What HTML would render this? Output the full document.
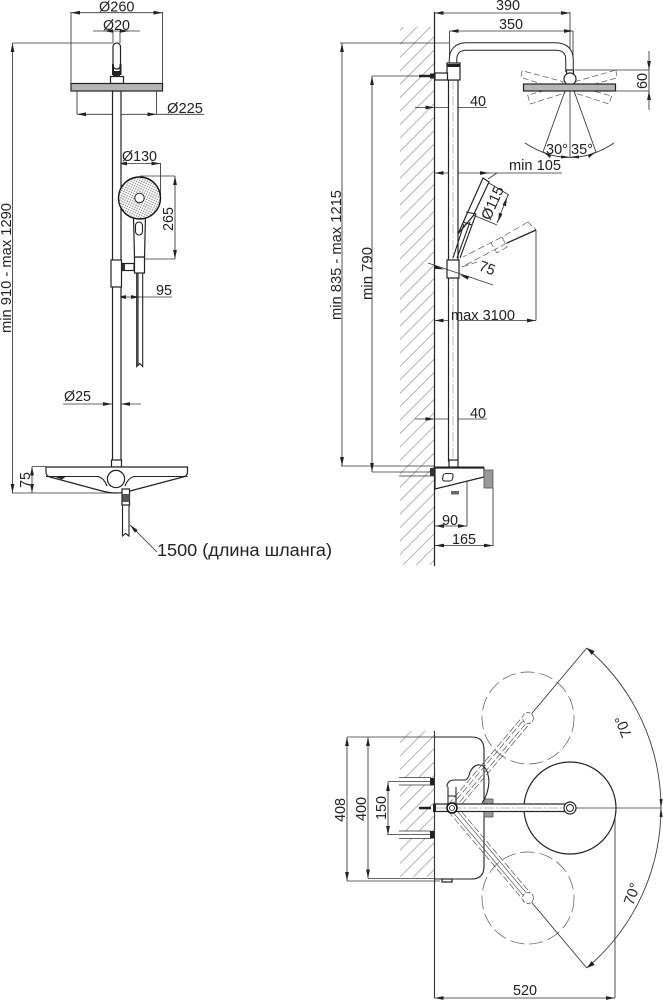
<!DOCTYPE html>
<html><head><meta charset="utf-8"><style>
html,body{margin:0;padding:0;background:#fff;width:663px;height:1000px;overflow:hidden}
svg{display:block}
text{font-family:"Liberation Sans",sans-serif;font-size:15px;fill:#222}
.d{stroke:#333;stroke-width:.85;fill:none}
.o{stroke:#222;stroke-width:1.2;fill:#fff}
.n{stroke:#222;stroke-width:1.1;fill:none}
.t{stroke:#555;stroke-width:.7;fill:none;stroke-dasharray:9 4}
</style></head><body>
<svg width="663" height="1000" viewBox="0 0 663 1000" xmlns="http://www.w3.org/2000/svg">
<defs>
<marker id="a" viewBox="0 0 9 5" refX="0" refY="2.5" markerWidth="9" markerHeight="5" markerUnits="userSpaceOnUse" orient="auto"><path d="M0,2.5L9,0.6V4.4Z" fill="#222"/></marker>
<marker id="b" viewBox="0 0 9 5" refX="9" refY="2.5" markerWidth="9" markerHeight="5" markerUnits="userSpaceOnUse" orient="auto"><path d="M9,2.5L0,0.6V4.4Z" fill="#222"/></marker>
<pattern id="hp" width="9.5" height="9.5" patternUnits="userSpaceOnUse" patternTransform="rotate(45)"><line x1="0" y1="0" x2="0" y2="9.5" stroke="#999" stroke-width="1.5"/></pattern>
<pattern id="dots" width="2.4" height="2.4" patternUnits="userSpaceOnUse" patternTransform="rotate(25)"><rect width="2.4" height="2.4" fill="#fff"/><circle cx="1.2" cy="1.2" r=".65" fill="#666"/></pattern>
</defs>

<!-- LEFT VIEW -->
<g>
<path class="d" d="M71,12V84M162.500,12V84M113,31V43M120,31V43M77,91V114M156.500,91V114M12.500,43H113M118,163V197M160.500,163V197M140,176H175M144,259H175M32,466.500H46M12,493H116"/>
<path class="d" d="M71,12.700H162.500" marker-start="url(#a)" marker-end="url(#b)"/>
<path class="d" d="M93,31H140"/><path d="M104,31l9,-1.700v3.400zM129,31l-9,-1.700v3.400z" fill="#222"/>
<path class="d" d="M77,114.300H204"/><path d="M77,114.300l9,-1.900v3.800zM156.500,114.300l-9,-1.900v3.800z" fill="#222"/>
<path class="d" d="M12.500,43V493" marker-start="url(#a)" marker-end="url(#b)"/>
<path class="d" d="M118,163.500H160.500" marker-start="url(#a)" marker-end="url(#b)"/>
<path class="d" d="M175,176V259" marker-start="url(#a)" marker-end="url(#b)"/>
<path class="d" d="M117,297H172"/><path d="M117,297l9,-1.900v3.800zM140,297l-9,-1.900v3.800z" fill="#222"/>
<path class="d" d="M63,404H141"/><path d="M112,404l-9,-1.900v3.800zM121,404l9,-1.900v3.800z" fill="#222"/>
<path class="d" d="M32,466.500V493" marker-start="url(#a)" marker-end="url(#b)"/>
<path class="d" d="M157,552L130,525" marker-end="url(#b)"/>

<rect class="o" x="112.500" y="91" width="8.500" height="370"/>
<rect class="o" x="113" y="43" width="7.500" height="26" rx="3.700"/>
<path d="M112,64h2v11h-2zM119.500,64h2v11h-2zM113,71h7v5h-7z" fill="#222"/>
<rect class="o" x="110.500" y="76.500" width="13" height="7"/>
<rect x="71" y="83.500" width="91.500" height="7.500" fill="#b5b5b5" stroke="#222" stroke-width="1.200"/>

<rect class="o" x="111" y="260" width="10.500" height="27"/>
<rect class="o" x="122" y="263.500" width="12" height="7"/>
<rect x="122" y="264" width="3" height="6" fill="#333"/>
<path class="n" d="M136.700,272V366.500l3,-3 3,3V272M138,272V366" stroke-width="1"/>
<rect class="o" x="134.500" y="257" width="10" height="16"/>
<path class="o" d="M133.500,216Q134,240 134.500,257H144.500Q145,240 145.500,216Z"/>
<circle cx="139.500" cy="198" r="21" fill="url(#dots)" stroke="#111" stroke-width="1.400"/>
<circle cx="139.500" cy="198" r="4.700" fill="#fff" stroke="#222"/>
<rect class="n" x="135.500" y="222" width="7" height="13" rx="3.500"/>

<rect class="o" x="111.500" y="460" width="10" height="7"/>
<path class="o" d="M46,467H187.500V472Q187.500,476 183,477L130,491Q122,493 116,493Q110,493 102,491L50,477Q46,476 46,472Z"/>
<path class="n" d="M46,476.500H98Q104,478 107,486M187.500,476.500H134Q128,478 125,486"/>
<path d="M54,476.500l12,0l-4,3z" fill="#222"/>
<circle class="o" cx="116" cy="479" r="8.600" stroke-width="1.400"/>
<rect class="o" x="122" y="489" width="7.500" height="16"/>
<rect x="122.500" y="494" width="7" height="8" fill="#555"/>
<path class="n" d="M122.500,505V536l3,-2.500 3.500,2.500V505" stroke-width="1"/>
<text x="99" y="11.500" textLength="35.500" lengthAdjust="spacingAndGlyphs">Ø260</text>
<text x="103" y="30" textLength="27" lengthAdjust="spacingAndGlyphs">Ø20</text>
<text x="167" y="113" textLength="36" lengthAdjust="spacingAndGlyphs">Ø225</text>
<text x="122" y="161" textLength="35" lengthAdjust="spacingAndGlyphs">Ø130</text>
<text x="156" y="295" textLength="16" lengthAdjust="spacingAndGlyphs">95</text>
<text x="64" y="401" textLength="27" lengthAdjust="spacingAndGlyphs">Ø25</text>
<text x="157" y="556" style="font-size:17.500px" textLength="175" lengthAdjust="spacingAndGlyphs">1500 (длина шланга)</text>
<text transform="translate(11,333) rotate(-90)" textLength="130" lengthAdjust="spacingAndGlyphs">min 910 - max 1290</text>
<text transform="translate(173,231) rotate(-90)" textLength="24" lengthAdjust="spacingAndGlyphs">265</text>
<text transform="translate(30,488) rotate(-90)" textLength="16" lengthAdjust="spacingAndGlyphs">75</text>
</g>

<!-- SIDE VIEW -->
<g>
<rect x="400" y="27" width="34" height="538" fill="url(#hp)"/>
<path d="M434.500,12V566" stroke="#222" stroke-width="1.200"/>
<path class="d" d="M570,12V90M449.500,31V64M573,31V60M340,43H449M372,76H420M575,70H649M615,91H649M341,466H434M372,472H434M399,476H434M536,230V320.500M467,480V526M493,488V546M488,179L497,173"/>
<path class="d" d="M434.500,13H570" marker-start="url(#a)" marker-end="url(#b)"/>
<path class="d" d="M449.500,31H573" marker-start="url(#a)" marker-end="url(#b)"/>
<path class="d" d="M342,43V466" marker-start="url(#a)" marker-end="url(#b)"/>
<path class="d" d="M372,76V472" marker-start="url(#a)" marker-end="url(#b)"/>
<path class="d" d="M649,51V110"/><path d="M649,70l-1.900,-9h3.800zM649,91l-1.900,9h3.800z" fill="#222"/>
<path class="d" d="M415,107.500H487"/><path d="M434.500,107.500l-9,-1.900v3.800zM449,107.500l9,-1.900v3.800z" fill="#222"/>
<path class="d" d="M434.500,173H562"/><path d="M434.500,173l9,-1.900v3.800zM489,173l-9,-1.900v3.800z" fill="#222"/>
<path class="d" d="M434.500,320.500H536" marker-start="url(#a)" marker-end="url(#b)"/>
<path class="d" d="M415,419H487"/><path d="M434.500,419l-9,-1.900v3.800zM449,419l9,-1.900v3.800z" fill="#222"/>
<path class="d" d="M435,526H467" marker-start="url(#a)" marker-end="url(#b)"/>
<path class="d" d="M435,545.500H493" marker-start="url(#a)" marker-end="url(#b)"/>

<path d="M453,65V60Q453,46.500 467,46.500H555Q569.500,46.500 569.500,60V72" fill="none" stroke="#222" stroke-width="8.500"/>
<path d="M453,65V60Q453,46.500 467,46.500H555Q569.500,46.500 569.500,60V72" fill="none" stroke="#fff" stroke-width="6.500"/>
<rect class="o" x="448.500" y="80" width="9.500" height="381"/>
<path d="M453,80V461" stroke="#aaa" stroke-width=".7" stroke-dasharray="10 2 2 2"/>
<rect class="o" x="447" y="63" width="13" height="17"/><rect x="447" y="64" width="13" height="3" fill="#222"/>
<rect class="o" x="435" y="73" width="12.500" height="7"/>
<path d="M419,76H430" stroke="#222" stroke-width="2.500"/><rect x="430" y="73.500" width="4" height="5" fill="#222"/>

<rect class="o" x="566.500" y="70" width="7" height="8"/>
<polygon class="t" points="522.300,70.700 520.700,77.300 560,90 563,81.700" style="stroke-dasharray:6 3"/>
<polygon class="t" points="616,70 616.700,78 580,88 575,81.700" style="stroke-dasharray:6 3"/>
<polygon class="t" points="527.700,95 530,104 565,93 563,86" style="stroke-dasharray:6 3"/>
<polygon class="t" points="611.700,96 609,104 575,93 575,86" style="stroke-dasharray:6 3"/>
<circle class="o" cx="570" cy="79" r="6"/>
<rect x="523.500" y="84" width="92" height="7" fill="#b5b5b5" stroke="#222" stroke-width="1.200"/>
<path class="d" d="M570,91V157M565,91L543,152M574,91L596,152M525,143Q570,172 614,143"/>
<path d="M543,151.500l8,3.600 -1,3zM570,157l-9,-1.500 0,3zM570,157l9,-1.500 0,3zM596,151.500l-8,3.600 1,3z" fill="#222"/>

<!-- hand shower -->
<polygon class="o" points="483,178 489,182 473,216 458,234"/>
<path class="n" d="M466,212L476,214L472,225L463,222M464,224L453,258M470,222L457,258M472,225L460,258" stroke-width=".9"/>
<path class="t" d="M528,222L502,237L463,257M462,267L477,262M502,237L507,247L497,253L491,243" style="stroke-dasharray:7 3"/>
<path class="t" d="M528,222L536,230" style="stroke-dasharray:6 2"/>
<path d="M536,230L507,243" stroke="#222" stroke-width="1.300"/><path class="t" d="M507,243L462,267" style="stroke-dasharray:7 3"/>
<rect class="o" x="447" y="260" width="12" height="18"/>
<path class="d" d="M489,183L509,195M473,215L497,225M508,195L497,223M428,263L493,285"/>
<path d="M507,197l-4.500,8 3.500,1.300zM498,222l4.500,-8 -3.500,-1.300z" fill="#222"/>
<path d="M444,269.500l-9,-4.400 -1.200,3.600zM460,275l9,1 -1.200,3.600z" fill="#222"/>

<!-- shelf side -->
<rect class="o" x="449" y="460" width="9" height="7"/>
<path class="o" d="M435,468H484V477L435,489Z"/>
<path d="M435,467.500H484" stroke="#222" stroke-width="2"/>
<rect x="484" y="470" width="9" height="18" fill="#999" stroke="#555" stroke-width=".8"/>
<rect x="430" y="468" width="4.500" height="8" fill="#333"/>
<rect class="n" x="443" y="473.500" width="10" height="7.500" rx="2.500" transform="skewX(-10) translate(84,0)"/>
<rect x="451" y="491" width="8" height="3.500" fill="#666"/>

<text x="496" y="10" textLength="24" lengthAdjust="spacingAndGlyphs">390</text>
<text x="499" y="29" textLength="24" lengthAdjust="spacingAndGlyphs">350</text>
<text x="470" y="106" textLength="16" lengthAdjust="spacingAndGlyphs">40</text>
<text x="470" y="418" textLength="16" lengthAdjust="spacingAndGlyphs">40</text>
<text x="509" y="170" textLength="52" lengthAdjust="spacingAndGlyphs">min 105</text>
<text x="451" y="320" textLength="64" lengthAdjust="spacingAndGlyphs">max 3100</text>
<text x="442" y="525" textLength="16" lengthAdjust="spacingAndGlyphs">90</text>
<text x="452" y="544" textLength="24" lengthAdjust="spacingAndGlyphs">165</text>
<text x="546" y="154" textLength="22" lengthAdjust="spacingAndGlyphs">30°</text>
<text x="571" y="154" textLength="22" lengthAdjust="spacingAndGlyphs">35°</text>
<text transform="translate(647,89) rotate(-90)" textLength="16" lengthAdjust="spacingAndGlyphs">60</text>
<text transform="translate(490,221) rotate(-66)" textLength="35" lengthAdjust="spacingAndGlyphs">Ø115</text>
<text transform="translate(478,270) rotate(20)" textLength="16" lengthAdjust="spacingAndGlyphs">75</text>
<text transform="translate(341,320) rotate(-90)" textLength="130" lengthAdjust="spacingAndGlyphs">min 835 - max 1215</text>
<text transform="translate(372,300) rotate(-90)" textLength="53" lengthAdjust="spacingAndGlyphs">min 790</text>
</g>

<!-- TOP VIEW -->
<g>
<rect x="400" y="731" width="34" height="146" fill="url(#hp)"/>
<rect x="399" y="778" width="31" height="7" fill="#fff"/>
<rect x="399" y="831" width="31" height="7" fill="#fff"/>
<path class="d" d="M399,777.500H431M399,785H431M399,831H431M399,838.500H431"/>
<rect x="430" y="778" width="4.500" height="7.500" fill="#222"/><rect x="430" y="831" width="4.500" height="7.500" fill="#222"/>
<path d="M434.500,731V998" stroke="#333" stroke-width="1.100"/>
<path class="d" d="M347,737H434M347,881H440M368,878.500H434M388,781.500H430M388,834.500H430M615,808V998"/>
<path class="d" d="M347,737V881" marker-start="url(#a)" marker-end="url(#b)"/>
<path class="d" d="M368,737V878.500" marker-start="url(#a)" marker-end="url(#b)"/>
<path class="d" d="M388,782V835"/><path d="M388,782l-1.900,9h3.800zM388,835l-1.900,-9h3.800z" fill="#222"/>
<path class="d" d="M434.500,998H615" marker-start="url(#a)" marker-end="url(#b)"/>
<path class="n" d="M434.500,737H472Q484,737 484,750V866Q484,879 472,879H434.500"/>
<rect class="o" x="442" y="879" width="10" height="3" stroke-width=".8"/>
<rect x="484" y="799" width="9" height="18" fill="#999" stroke="#555" stroke-width=".8"/>
<path class="n" d="M447,787Q447,780 455,780L465,780Q468,780 470,772Q474,764 480,765Q488,766 489,782Q488,795 482,803"/>
<path class="n" d="M448,787V804M456,787V804M448,796H456" stroke-width=".9"/>

<circle class="o" cx="570" cy="808" r="46" stroke-width="1.200" fill="none"/>
<circle class="t" cx="528" cy="718" r="46" style="stroke-dasharray:14 5"/>
<circle class="t" cx="528" cy="898" r="46" style="stroke-dasharray:14 5"/>
<path class="d" d="M570,808H661M528,718L586.700,648M528,898L586.700,968M586.700,648A209.400,209.400 0 0 1 661,808A209.400,209.400 0 0 1 586.700,968"/>
<path d="M586.700,648l8,3 -3,4zM661,808l-1.500,-9 3.200,0zM661,808l-1.500,9 3.200,0zM586.700,968l8,-3 -3,-4z" fill="#222"/>

<path class="t" d="M450.500,806.700L526.500,716.700M453.500,809.300L529.500,719.300M448.200,804.800L524.200,714.800M455.800,811.200L531.800,721.200" style="stroke-dasharray:7 2.500"/>
<path d="M450.500,809.300L526.500,899.300M453.500,806.700L529.500,896.700" stroke="#555" stroke-width=".7" fill="none"/>
<path class="t" d="M448.200,811.200L524.200,901.200M455.800,804.800L531.800,894.800" style="stroke-dasharray:7 2.500"/>
<circle cx="528" cy="718" r="5.500" fill="#fff" stroke="#555" stroke-width=".8" stroke-dasharray="4 2"/>
<circle cx="528" cy="898" r="5.500" fill="#fff" stroke="#555" stroke-width=".8" stroke-dasharray="4 2"/>
<rect class="o" x="435" y="804" width="135" height="7.500"/>
<path d="M436,808H566" stroke="#aaa" stroke-width=".7" stroke-dasharray="10 2 2 2"/>
<circle class="o" cx="570" cy="808" r="6" stroke-width="1.200"/><circle cx="570" cy="808" r="3.500" fill="#fff" stroke="#222"/>
<path d="M419,808H431" stroke="#222" stroke-width="2.500"/><rect x="433" y="804" width="3" height="8" fill="#222"/>
<circle cx="452" cy="808" r="5" fill="#fff" stroke="#111" stroke-width="1.600"/><circle cx="452" cy="808" r="2.500" fill="#fff" stroke="#222" stroke-width=".8"/>

<text x="513" y="995" textLength="24" lengthAdjust="spacingAndGlyphs">520</text>
<text transform="translate(345,822) rotate(-90)" textLength="24" lengthAdjust="spacingAndGlyphs">408</text>
<text transform="translate(366,821) rotate(-90)" textLength="24" lengthAdjust="spacingAndGlyphs">400</text>
<text transform="translate(386,820) rotate(-90)" textLength="24" lengthAdjust="spacingAndGlyphs">150</text>
<text transform="translate(632,735) rotate(-112)" textLength="22" lengthAdjust="spacingAndGlyphs">70°</text>
<text transform="translate(633,906) rotate(-70)" textLength="22" lengthAdjust="spacingAndGlyphs">70°</text>
</g>
</svg>
</body></html>
